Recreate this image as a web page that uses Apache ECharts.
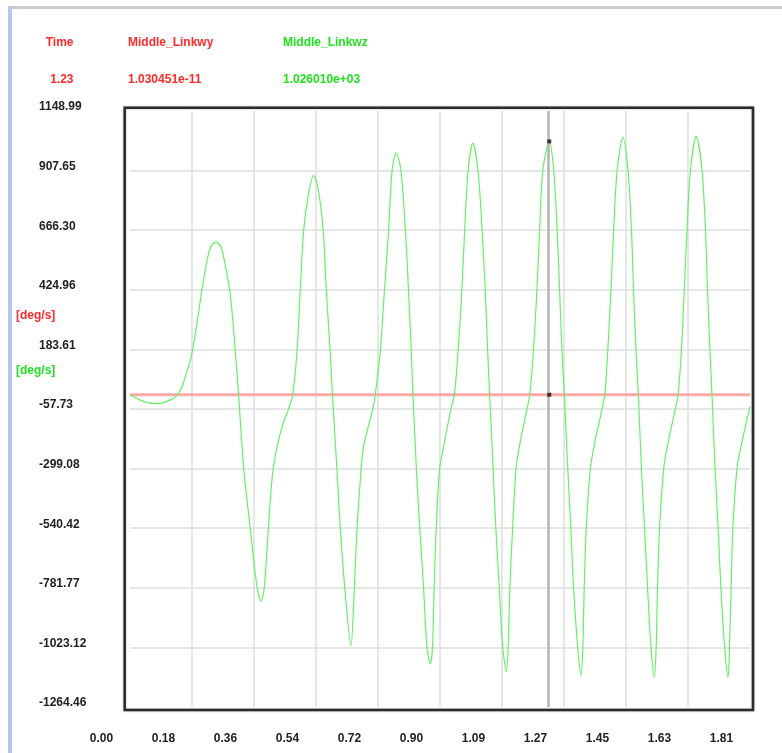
<!DOCTYPE html>
<html>
<head>
<meta charset="utf-8">
<script src="https://cdn.jsdelivr.net/npm/echarts@6/dist/echarts.min.js"></script>
<style>
html,body{margin:0;padding:0;background:#fff;}
#chart{width:782px;height:753px;}
</style>
</head>
<body>
<div id="chart"></div>
<script>
// ---- data ----
const timeValues = [
  0, 0.022, 0.042, 0.060, 0.076, 0.095, 0.111, 0.128, 0.139, 0.152, 0.163, 0.172, 0.178, 0.183, 0.197, 0.210, 0.227, 0.238, 0.251,
  0.266, 0.280, 0.291, 0.300, 0.307, 0.317, 0.332, 0.351, 0.371, 0.382, 0.392, 0.404, 0.418, 0.441, 0.463, 0.475, 0.488, 0.497, 0.507, 0.521, 0.536,
  0.550, 0.564, 0.573, 0.584, 0.591, 0.604, 0.614, 0.627, 0.645, 0.655, 0.663, 0.675, 0.682, 0.709, 0.716, 0.731, 0.743, 0.755, 0.765, 0.777,
  0.791, 0.804, 0.813, 0.821, 0.826, 0.836, 0.846, 0.857, 0.867, 0.877, 0.883, 0.888, 0.894, 0.904, 0.916, 0.937, 0.947, 0.958, 0.969, 0.977, 0.987, 1.001,
  1.016, 1.028, 1.037, 1.044, 1.050, 1.060, 1.068, 1.078, 1.088, 1.099, 1.104, 1.109, 1.117, 1.127, 1.137, 1.159, 1.167, 1.178, 1.188, 1.196, 1.205, 1.224,
  1.237, 1.247, 1.254, 1.261, 1.268, 1.278, 1.287, 1.295, 1.307, 1.317, 1.322, 1.326, 1.332, 1.344, 1.355, 1.378, 1.386, 1.395, 1.404, 1.412, 1.422, 1.439,
  1.454, 1.464, 1.470, 1.477, 1.484, 1.493, 1.502, 1.511, 1.521, 1.531, 1.536, 1.540, 1.546, 1.558, 1.569, 1.592, 1.600, 1.610, 1.618, 1.626, 1.636, 1.653,
  1.670, 1.680, 1.686, 1.693, 1.699, 1.708, 1.717, 1.725, 1.736, 1.746, 1.750, 1.755, 1.760, 1.772, 1.784, 1.810
];
const linkWzValues = [
  0, -16, -29, -34, -36, -33, -25, -13, 0, 32, 80, 120, 150, 184, 303, 425, 557, 605, 618,
  597, 509, 425, 303, 183, 0, -299, -540, -781, -835, -781, -540, -299, -143, -57, 0, 183, 425, 666, 812, 888,
  827, 666, 425, 183, 0, -299, -540, -781, -1018, -781, -540, -299, -207, -57, 0, 183, 425, 666, 907, 979,
  907, 666, 425, 183, 0, -299, -540, -781, -1023, -1090, -1023, -781, -540, -299, -207, -57, 0, 183, 425, 666, 907, 1019,
  907, 666, 425, 183, 0, -299, -540, -781, -1023, -1121, -1023, -781, -540, -299, -207, -57, 0, 183, 425, 666, 907, 1026,
  907, 666, 425, 183, 0, -299, -540, -781, -1023, -1137, -1023, -781, -540, -299, -207, -57, 0, 183, 425, 666, 907, 1042,
  907, 666, 425, 183, 0, -299, -540, -781, -1023, -1145, -1023, -781, -540, -299, -207, -57, 0, 183, 425, 666, 907, 1047,
  907, 666, 425, 183, 0, -299, -540, -781, -1023, -1145, -1023, -781, -540, -299, -207, -48
];
const linkWyTime = [0, 0.45, 0.9, 1.35, 1.81];
const linkWyValues = [1.03e-11, 1.03e-11, 1.03e-11, 1.03e-11, 1.03e-11];

const cursorTime = 1.224;
const cursorWy = 1.030451e-11;
const cursorWz = 1026.01;

const xTickLabels = ['0.00','0.18','0.36','0.54','0.72','0.90','1.09','1.27','1.45','1.63','1.81'];
const yTickLabels = ['-1264.46','-1023.12','-781.77','-540.42','-299.08','-57.73','183.61','424.96','666.30','907.65','1148.99'];
const xMin = 0, xMax = 1.81, xStep = 0.181;
const yMin = -1264.46, yMax = 1148.99, yStep = 241.345;

const headerNames = ['Time', 'Middle_Linkwy', 'Middle_Linkwz'];
const headerValues = ['1.23', '1.030451e-11', '1.026010e+03'];
const unitLabels = ['[deg/s]', '[deg/s]'];

// ---- styles ----
const RED = '#ff2a2a';
const GREEN = '#22e022';
const FONT = '"Liberation Sans", Arial, sans-serif';
const FSIZE = 12;

const wzData = timeValues.map((t, i) => [t, linkWzValues[i]]);
const wyData = linkWyTime.map((t, i) => [t, linkWyValues[i]]);

const chart = echarts.init(document.getElementById('chart'), null, {renderer: 'canvas'});

const txt = (x, y, text, color, align) => ({
  type: 'text', x: x, y: y, z: 10,
  style: {text: text, fill: color, font: 'bold ' + FSIZE + 'px ' + FONT, textAlign: align || 'left', textVerticalAlign: 'middle'}
});

chart.setOption({
  animation: false,
  backgroundColor: '#ffffff',
  grid: {left: 130, right: 32, top: 111, bottom: 46, containLabel: false},
  xAxis: {
    type: 'value', min: xMin, max: xMax, interval: xStep,
    axisLine: {show: false}, axisTick: {show: false},
    splitLine: {show: true, showMinLine: false, showMaxLine: false, lineStyle: {color: '#dedede', width: 1.5}},
    axisLabel: {
      show: true, showMinLabel: true, showMaxLabel: true, margin: 26,
      color: '#222', fontFamily: FONT, fontWeight: 'bold', fontSize: FSIZE,
      padding: [0, 57, 0, 0],
      formatter: v => xTickLabels[Math.round((v - xMin) / xStep)] || ''
    }
  },
  yAxis: {
    type: 'value', min: yMin, max: yMax, interval: yStep,
    axisLine: {show: false}, axisTick: {show: false},
    splitLine: {show: true, showMinLine: false, showMaxLine: false, lineStyle: {color: '#dedede', width: 1.5}},
    axisLabel: {
      show: true, showMinLabel: true, showMaxLabel: true, margin: 91, align: 'left',
      verticalAlign: 'bottom', lineHeight: 8,
      color: '#222', fontFamily: FONT, fontWeight: 'bold', fontSize: FSIZE,
      formatter: v => yTickLabels[Math.round((v - yMin) / yStep)] || ''
    }
  },
  series: [
    {
      name: 'Middle_Linkwy', type: 'line', data: wyData, showSymbol: false,
      lineStyle: {color: '#ffa8a8', width: 3}, z: 2,
      markLine: {
        silent: true, symbol: 'none', label: {show: false},
        lineStyle: {color: '#b4b4b4', width: 2.5, type: 'solid'},
        data: [{xAxis: cursorTime}]
      }
    },
    {
      name: 'Middle_Linkwz', type: 'line', data: wzData, showSymbol: false, smooth: 0.3,
      lineStyle: {color: '#66f066', width: 1.2}, z: 3
    },
    {
      name: 'cursor', type: 'scatter', symbol: 'rect', symbolSize: 4, z: 5,
      itemStyle: {color: '#111'},
      data: [[cursorTime, cursorWz], [cursorTime, cursorWy]]
    }
  ],
  graphic: [
    // window chrome
    {type: 'rect', shape: {x: 8, y: 6, width: 774, height: 3}, style: {fill: '#cccccc'}, z: 1},
    {type: 'rect', shape: {x: 8, y: 6, width: 4, height: 747}, style: {fill: '#b3c9e6'}, z: 1},
    // plot frame
    {type: 'rect', shape: {x: 124.7, y: 107.7, width: 628.3, height: 602.3}, z: 20,
     style: {fill: 'none', stroke: '#2a2a2a', lineWidth: 2.5, shadowBlur: 2, shadowColor: 'rgba(0,0,0,0.35)'}},
    // cursor table
    txt(73.5, 43, headerNames[0], RED, 'right'),
    txt(128, 43, headerNames[1], RED),
    txt(283, 43, headerNames[2], GREEN),
    txt(73.5, 79.5, headerValues[0], RED, 'right'),
    txt(128, 79.5, headerValues[1], RED),
    txt(283, 79.5, headerValues[2], GREEN),
    // units
    txt(16, 316, unitLabels[0], RED),
    txt(16, 371, unitLabels[1], GREEN)
  ]
});
</script>
</body>
</html>
